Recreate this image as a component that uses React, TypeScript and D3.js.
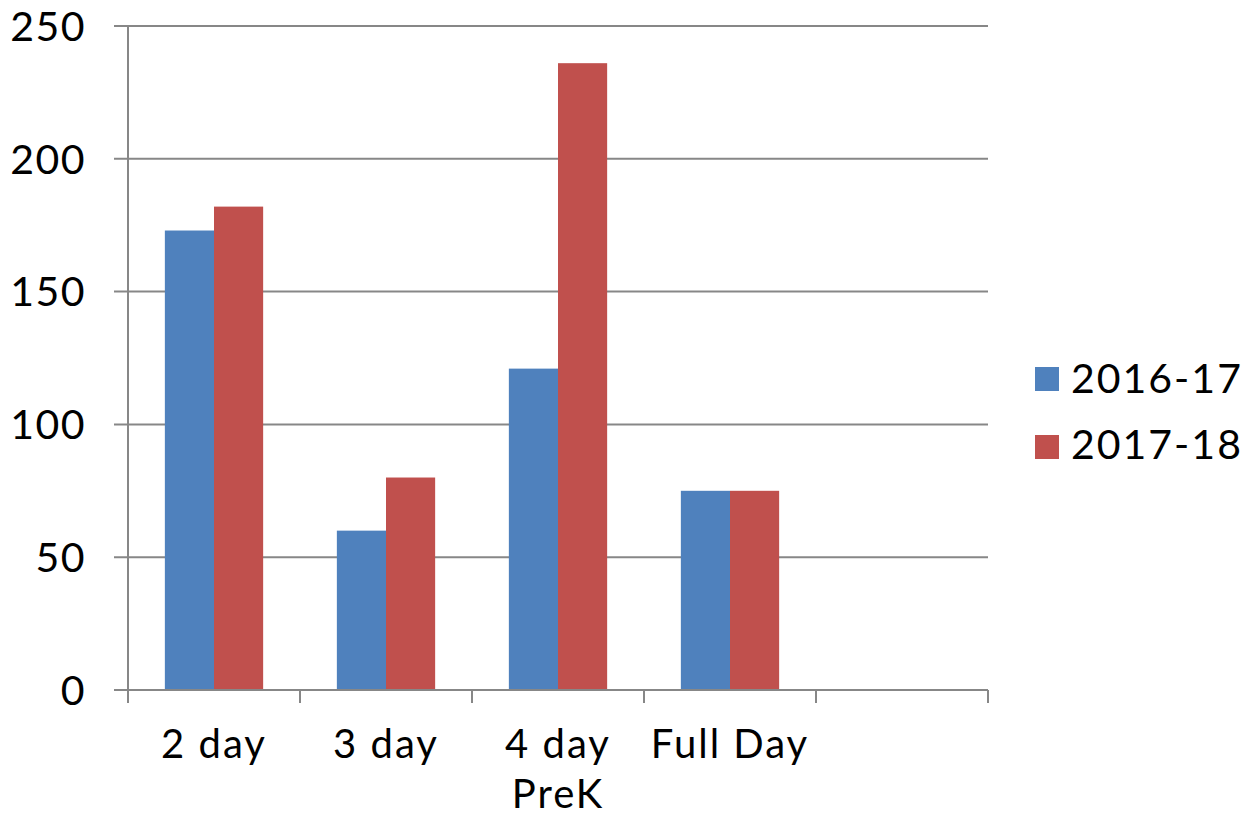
import React from "react";
import * as d3 from "d3";

const categories = ["2 day", "3 day", "4 day\nPreK", "Full Day", ""];
const seriesNames = ["2016-17", "2017-18"];
const values2016 = [173, 60, 121, 75, null];
const values2017 = [182, 80, 236, 75, null];
const seriesColors = ["#4F81BD", "#C0504D"];
const yTicks = [0, 50, 100, 150, 200, 250];

const W = 1247;
const H = 817;
const left = 128;
const right = 988;
const top = 26;
const bottom = 690;
const FONT = "Lato, 'Open Sans', sans-serif";

export default function App() {
  const x = d3.scaleBand<string>().domain(categories.map((c, i) => String(i))).range([left, right]).padding(0);
  const inner = d3.scaleBand<string>().domain(seriesNames).range([0, x.bandwidth()]).paddingInner(0).paddingOuter(0.75);
  const y = d3.scaleLinear().domain([0, 250]).range([bottom, top]);
  const series = [values2016, values2017];
  const grid = "#878787";

  return (
    <svg width={W} height={H} style={{ position: "absolute", left: 0, top: 0, background: "#fff" }}>
      {yTicks.map((t) => (
        <g key={t}>
          <line x1={114} x2={right} y1={y(t)} y2={y(t)} stroke={grid} strokeWidth={2} />
          <text x={86} y={y(t)} dy="0.36em" textAnchor="end" fontFamily={FONT} fontSize={41} letterSpacing={1.5} fill="#000">
            {t}
          </text>
        </g>
      ))}
      {series.map((vals, si) =>
        vals.map((v, ci) =>
          v == null ? null : (
            <rect
              key={`${si}-${ci}`}
              x={(x(String(ci)) as number) + (inner(seriesNames[si]) as number)}
              y={y(v)}
              width={inner.bandwidth()}
              height={bottom - y(v)}
              fill={seriesColors[si]}
            />
          )
        )
      )}
      <line x1={left} x2={left} y1={top} y2={bottom} stroke={grid} strokeWidth={2} />
      <line x1={left} x2={right} y1={bottom} y2={bottom} stroke={grid} strokeWidth={2} />
      {d3.range(categories.length + 1).map((i) => {
        const xx = left + i * x.step();
        return <line key={i} x1={xx} x2={xx} y1={bottom} y2={bottom + 13} stroke={grid} strokeWidth={2} />;
      })}
      {categories.map((c, ci) => {
        const cx = (x(String(ci)) as number) + x.bandwidth() / 2;
        return (
          <text key={ci} x={cx} y={758} textAnchor="middle" fontFamily={FONT} fontSize={40} letterSpacing={2} fill="#000">
            {c.split("\n").map((line, li) => (
              <tspan key={li} x={cx} dy={li === 0 ? 0 : 50}>
                {line}
              </tspan>
            ))}
          </text>
        );
      })}
      {seriesNames.map((s, si) => (
        <g key={s}>
          <rect x={1035} y={367 + si * 68} width={24} height={24} fill={seriesColors[si]} />
          <text x={1071} y={393 + si * 66} fontFamily={FONT} fontSize={41} letterSpacing={2} fill="#000">
            {s}
          </text>
        </g>
      ))}
    </svg>
  );
}
